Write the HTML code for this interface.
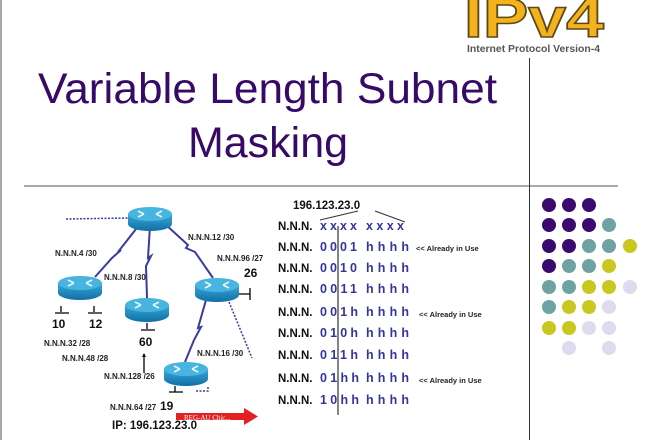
<!DOCTYPE html>
<html><head><meta charset="utf-8"><style>
html,body{margin:0;padding:0;background:#fff;}
svg{display:block;}
</style></head><body>
<svg width="660" height="440" viewBox="0 0 660 440" xmlns="http://www.w3.org/2000/svg" font-family="Liberation Sans, sans-serif">
<defs>
<linearGradient id="rb" x1="0" y1="0" x2="0" y2="1"><stop offset="0" stop-color="#3aa8d8"/><stop offset="1" stop-color="#0e6fa6"/></linearGradient>
<g id="router">
<path d="M-22,0 L-22,10 A22,7 0 0 0 22,10 L22,0 Z" fill="url(#rb)"/>
<ellipse cx="0" cy="0" rx="22" ry="7" fill="#48b4e0"/>
<path d="M-12,-3 l6,3 M-12,3 l6,-3 M12,-3 l-6,3 M12,3 l-6,-3" stroke="#e8f6ff" stroke-width="1.6" fill="none"/>
</g>
</defs>
<rect x="0" y="0" width="2" height="440" fill="#a9a9a9"/>
<line x1="24" y1="186" x2="618" y2="186" stroke="#555" stroke-width="1"/>
<line x1="529.5" y1="58" x2="529.5" y2="440" stroke="#333" stroke-width="1"/>

<text x="464" y="37" font-size="56" font-weight="bold" fill="#f5b21a" stroke="#5a4a1a" stroke-width="1.5" textLength="140" lengthAdjust="spacingAndGlyphs">IPv4</text>
<text x="467" y="52" font-size="10" font-weight="bold" fill="#555" textLength="133" lengthAdjust="spacingAndGlyphs">Internet Protocol Version-4</text>

<text x="38" y="103" font-size="43" fill="#360a66" textLength="459" lengthAdjust="spacingAndGlyphs">Variable Length Subnet</text>
<text x="268" y="157" font-size="43" fill="#360a66" text-anchor="middle">Masking</text>

<g>
<circle cx="549" cy="205" r="7" fill="#3a0a6e"/><circle cx="569" cy="205" r="7" fill="#3a0a6e"/><circle cx="589" cy="205" r="7" fill="#3a0a6e"/>
<circle cx="549" cy="225" r="7" fill="#3a0a6e"/><circle cx="569" cy="225" r="7" fill="#3a0a6e"/><circle cx="589" cy="225" r="7" fill="#3a0a6e"/><circle cx="609" cy="225" r="7" fill="#6fa3a3"/>
<circle cx="549" cy="246" r="7" fill="#3a0a6e"/><circle cx="569" cy="246" r="7" fill="#3a0a6e"/><circle cx="589" cy="246" r="7" fill="#6fa3a3"/><circle cx="609" cy="246" r="7" fill="#6fa3a3"/><circle cx="630" cy="246" r="7" fill="#c8c820"/>
<circle cx="549" cy="266" r="7" fill="#3a0a6e"/><circle cx="569" cy="266" r="7" fill="#6fa3a3"/><circle cx="589" cy="266" r="7" fill="#6fa3a3"/><circle cx="609" cy="266" r="7" fill="#c8c820"/>
<circle cx="549" cy="287" r="7" fill="#6fa3a3"/><circle cx="569" cy="287" r="7" fill="#6fa3a3"/><circle cx="589" cy="287" r="7" fill="#c8c820"/><circle cx="609" cy="287" r="7" fill="#c8c820"/><circle cx="630" cy="287" r="7" fill="#dcdcee"/>
<circle cx="549" cy="307" r="7" fill="#6fa3a3"/><circle cx="569" cy="307" r="7" fill="#c8c820"/><circle cx="589" cy="307" r="7" fill="#c8c820"/><circle cx="609" cy="307" r="7" fill="#dcdcee"/>
<circle cx="549" cy="328" r="7" fill="#c8c820"/><circle cx="569" cy="328" r="7" fill="#c8c820"/><circle cx="589" cy="328" r="7" fill="#dcdcee"/><circle cx="609" cy="328" r="7" fill="#dcdcee"/>
<circle cx="569" cy="348" r="7" fill="#dcdcee"/><circle cx="609" cy="348" r="7" fill="#dcdcee"/>
</g>

<g stroke="#3a3aa0" stroke-width="2" fill="none">
<path d="M140,224 L118,252 L121,250 L112,258 L95,277"/>
<path d="M150,226 L148,258 L151,256 L146,266 L147,298"/>
<path d="M165,224 L188,245 L186,248 L195,252 L213,278"/>
<path d="M206,300 L198,328 L201,327 L194,340 L185,362"/>
</g>
<g stroke="#3a3aa0" stroke-width="1.5" fill="none" stroke-dasharray="2,1.5">
<path d="M66,219 L128,218"/>
<path d="M229,302 L252,358"/>
<path d="M196,391 L208,391 L208,386"/>
</g>
<g stroke="#000" stroke-width="1.3" fill="none">
<path d="M61,306 v6 M55,313 h14"/>
<path d="M94,306 v6 M88,313 h14"/>
<path d="M147,323 v6 M141,330 h14"/>
<path d="M238,294 h12 M250,288 v12"/>
<path d="M175,386 v6 M169,392 h14"/>
<path d="M144,355 v18"/>
</g>
<path d="M144,353 l-2,4 h4 z" fill="#000"/>
<use href="#router" x="150" y="214"/>
<use href="#router" x="80" y="283"/>
<use href="#router" x="147" y="305"/>
<use href="#router" x="217" y="285"/>
<use href="#router" x="186" y="369"/>

<g font-size="8" font-weight="bold" fill="#222">
<text x="55" y="256">N.N.N.4 /30</text>
<text x="104" y="280">N.N.N.8 /30</text>
<text x="188" y="240">N.N.N.12 /30</text>
<text x="217" y="261">N.N.N.96 /27</text>
<text x="44" y="346">N.N.N.32 /28</text>
<text x="62" y="361">N.N.N.48 /28</text>
<text x="197" y="356">N.N.N.16 /30</text>
<text x="104" y="379">N.N.N.128 /26</text>
<text x="110" y="410">N.N.N.64 /27</text>
</g>
<g font-size="12" font-weight="bold" fill="#111">
<text x="244" y="277">26</text>
<text x="52" y="328">10</text>
<text x="89" y="328">12</text>
<text x="139" y="346">60</text>
<text x="160" y="410">19</text>
<text x="112" y="429" font-size="11.5">IP: 196.123.23.0</text>
</g>
<path d="M176,413 h68 v-5 l14,8.5 l-14,8.5 v-5 h-68 z" fill="#e52020"/>
<text x="184" y="420" font-size="7" fill="#fff" font-family="Liberation Serif, serif">REG-AU Chic...</text>

<text x="293" y="209" font-size="11.5" font-weight="bold" fill="#111">196.123.23.0</text>
<path d="M320,220 L358,211 M375,211 L405,222" stroke="#333" stroke-width="1" fill="none"/>
<line x1="338" y1="226" x2="338" y2="415" stroke="#333" stroke-width="1.2"/>
<g font-size="11.5" font-weight="bold" fill="#111">
<text x="278" y="230">N.N.N.</text>
<text x="278" y="251">N.N.N.</text>
<text x="278" y="272">N.N.N.</text>
<text x="278" y="293">N.N.N.</text>
<text x="278" y="316">N.N.N.</text>
<text x="278" y="337">N.N.N.</text>
<text x="278" y="359">N.N.N.</text>
<text x="278" y="382">N.N.N.</text>
<text x="278" y="404">N.N.N.</text>
</g>
<g font-size="12.5" font-weight="bold" fill="#3434a0">
<text x="320" y="230" textLength="37" lengthAdjust="spacing">xxxx</text><text x="366" y="230" textLength="38" lengthAdjust="spacing">xxxx</text>
<text x="320" y="251" textLength="37" lengthAdjust="spacing">0001</text><text x="366" y="251" textLength="43" lengthAdjust="spacing">hhhh</text>
<text x="320" y="272" textLength="37" lengthAdjust="spacing">0010</text><text x="366" y="272" textLength="43" lengthAdjust="spacing">hhhh</text>
<text x="320" y="293" textLength="37" lengthAdjust="spacing">0011</text><text x="366" y="293" textLength="43" lengthAdjust="spacing">hhhh</text>
<text x="320" y="316" textLength="38" lengthAdjust="spacing">001h</text><text x="366" y="316" textLength="43" lengthAdjust="spacing">hhhh</text>
<text x="320" y="337" textLength="38" lengthAdjust="spacing">010h</text><text x="366" y="337" textLength="43" lengthAdjust="spacing">hhhh</text>
<text x="320" y="359" textLength="38" lengthAdjust="spacing">011h</text><text x="366" y="359" textLength="43" lengthAdjust="spacing">hhhh</text>
<text x="320" y="382" textLength="39" lengthAdjust="spacing">01hh</text><text x="366" y="382" textLength="43" lengthAdjust="spacing">hhhh</text>
<text x="320" y="404" textLength="39" lengthAdjust="spacing">10hh</text><text x="366" y="404" textLength="43" lengthAdjust="spacing">hhhh</text>
</g>
<g font-size="7.5" font-weight="bold" fill="#222">
<text x="416" y="251">&lt;&lt; Already in Use</text>
<text x="419" y="317">&lt;&lt; Already in Use</text>
<text x="419" y="383">&lt;&lt; Already in Use</text>
</g>
</svg>
</body></html>
